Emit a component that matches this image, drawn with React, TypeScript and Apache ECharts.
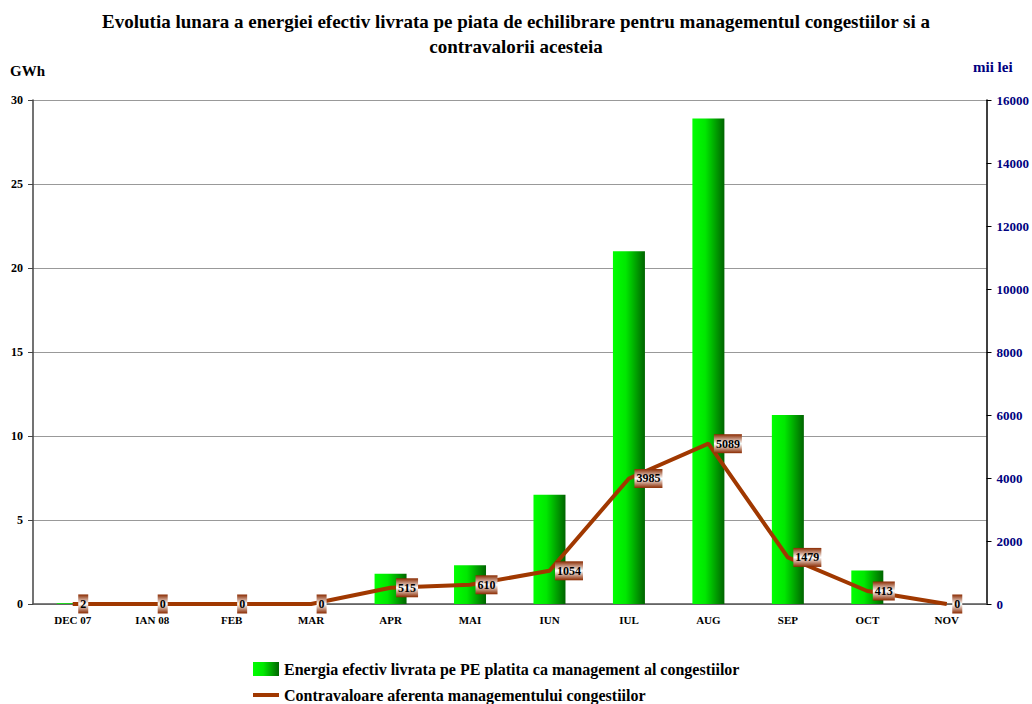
import React, { useEffect, useRef } from "react";
import * as echarts from "echarts";

const categories = ["DEC 07", "IAN 08", "FEB", "MAR", "APR", "MAI", "IUN", "IUL", "AUG", "SEP", "OCT", "NOV"];
const energyGWh = [0.05, 0, 0, 0, 1.8, 2.3, 6.5, 21.0, 28.9, 11.25, 2.0, 0];
const valueMiiLei = [2, 0, 0, 0, 515, 610, 1054, 3985, 5089, 1479, 413, 0];
const leftTicks = { min: 0, max: 30, interval: 5 };
const rightTicks = { min: 0, max: 16000, interval: 2000 };

const titleText =
  "Evolutia lunara a energiei efectiv livrata pe piata de echilibrare pentru managementul congestiilor si a\ncontravalorii acesteia";
const barName = "Energia efectiv livrata pe PE platita ca management al congestiilor";
const lineName = "Contravaloare aferenta managementului congestiilor";

const FONT = "'Liberation Serif', 'Times New Roman', serif";
const LINE_COLOR = "#a03800";

export default function App() {
  const ref = useRef<HTMLDivElement>(null);
  useEffect(() => {
    if (!ref.current) return;
    const chart = echarts.init(ref.current, null, { renderer: "svg" });
    const barGrad = new echarts.graphic.LinearGradient(0, 0, 1, 0, [
      { offset: 0, color: "#00ff00" },
      { offset: 0.4, color: "#00e800" },
      { offset: 1, color: "#006400" },
    ]);
    const labelGrad = new echarts.graphic.LinearGradient(0, 0, 0, 1, [
      { offset: 0, color: "#8a2a00" },
      { offset: 0.5, color: "#ffffff" },
      { offset: 1, color: "#8a2a00" },
    ]);
    chart.setOption({
      animation: false,
      backgroundColor: "#ffffff",
      textStyle: { fontFamily: FONT },
      title: {
        text: titleText,
        left: "center",
        top: 4,
        textStyle: { fontFamily: FONT, fontSize: 19, fontWeight: "bold", color: "#000", lineHeight: 25 },
      },
      grid: { left: 33, right: 44, top: 100, bottom: 100, containLabel: false },
      graphic: [
        {
          type: "text",
          left: 10,
          top: 63,
          style: { text: "GWh", font: `bold 15px ${FONT}`, fill: "#000" },
        },
        {
          type: "text",
          left: 973,
          top: 59,
          style: { text: "mii lei", font: `bold 15px ${FONT}`, fill: "#000080" },
        },
      ],
      legend: [
        {
          data: [barName],
          left: 248,
          top: 656,
          icon: "rect",
          itemWidth: 26,
          itemHeight: 14,
          itemGap: 4,
          textStyle: { fontFamily: FONT, fontSize: 16, fontWeight: "bold", color: "#000" },
        },
        {
          data: [{ name: lineName, itemStyle: { color: LINE_COLOR, opacity: 1 } }],
          left: 248,
          top: 682,
          icon: "rect",
          itemWidth: 26,
          itemHeight: 4,
          textStyle: { fontFamily: FONT, fontSize: 16, fontWeight: "bold", color: "#000" },
        },
      ],
      xAxis: {
        type: "category",
        data: categories,
        axisLine: { lineStyle: { color: "#555", width: 1.5 } },
        axisTick: { alignWithLabel: false, length: 5, lineStyle: { color: "#555" } },
        axisLabel: { fontFamily: FONT, fontSize: 11, fontWeight: "bold", color: "#000", margin: 10 },
      },
      yAxis: [
        {
          type: "value",
          ...leftTicks,
          axisLine: { show: true, lineStyle: { color: "#444", width: 1.5 } },
          axisTick: { show: true, length: 5, lineStyle: { color: "#444" } },
          axisLabel: { fontFamily: FONT, fontSize: 12, fontWeight: "bold", color: "#000", margin: 10 },
          splitLine: { show: true, lineStyle: { color: "#999", width: 1 } },
        },
        {
          type: "value",
          position: "right",
          ...rightTicks,
          axisLine: { show: true, lineStyle: { color: "#000", width: 1.5 } },
          axisTick: { show: true, length: 5, lineStyle: { color: "#000" } },
          axisLabel: {
            fontFamily: FONT,
            fontSize: 13,
            fontWeight: "bold",
            color: "#000080",
            margin: 10,
            formatter: (v: number) => String(v),
          },
          splitLine: { show: false },
        },
      ],
      series: [
        {
          name: barName,
          type: "bar",
          data: energyGWh,
          yAxisIndex: 0,
          barWidth: 32,
          itemStyle: { color: barGrad },
        },
        {
          name: lineName,
          type: "line",
          data: valueMiiLei,
          yAxisIndex: 1,
          symbol: "circle",
          symbolSize: 1,
          showSymbol: true,
          itemStyle: { color: LINE_COLOR, opacity: 0 },
          lineStyle: { color: LINE_COLOR, width: 4 },
          label: {
            show: true,
            position: "right",
            distance: 5,
            fontFamily: FONT,
            fontSize: 12,
            fontWeight: "bold",
            color: "#000",
            opacity: 1,
            backgroundColor: labelGrad,
            padding: [4, 2, 3, 2],
          },
          z: 5,
        },
      ],
    });
    return () => chart.dispose();
  }, []);
  return (
    <div
      ref={ref}
      style={{ position: "fixed", left: 0, top: 0, width: 1032, height: 704 }}
    />
  );
}
